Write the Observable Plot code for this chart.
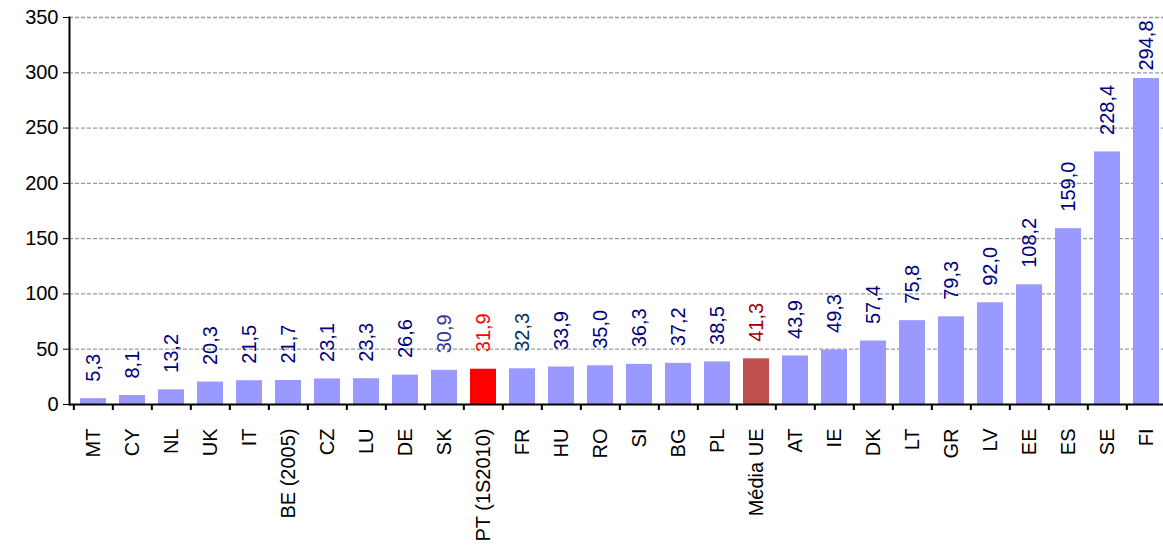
<!DOCTYPE html>
<html>
<head>
<meta charset="utf-8">
<script src="https://cdn.jsdelivr.net/npm/d3@7"></script>
<script src="https://cdn.jsdelivr.net/npm/@observablehq/plot@0.6"></script>
<style>
  html, body { margin: 0; padding: 0; background: #fff; overflow: hidden; }
  #chart svg { display: block; }
</style>
</head>
<body>
<div id="chart"></div>
<script>
const countries = ["MT","CY","NL","UK","IT","BE (2005)","CZ","LU","DE","SK","PT (1S2010)","FR","HU","RO","SI","BG","PL","Média UE","AT","IE","DK","LT","GR","LV","EE","ES","SE","FI"];
const values = [5.3,8.1,13.2,20.3,21.5,21.7,23.1,23.3,26.6,30.9,31.9,32.3,33.9,35.0,36.3,37.2,38.5,41.3,43.9,49.3,57.4,75.8,79.3,92.0,108.2,159.0,228.4,294.8];
const yTicks = [0,50,100,150,200,250,300,350];
const gridTicks = [50,100,150,200,250,300,350];

const barColor = {"PT (1S2010)": "#ff0000", "Média UE": "#c0504d"};
const labelColor = {"SK": "#333399", "PT (1S2010)": "#ff0000", "FR": "#003366", "Média UE": "#990000"};

const data = countries.map((c, i) => ({country: c, value: values[i]}));
const fmt = v => d3.format(".1f")(v).replace(".", ",");

const W = 1163, H = 549, ML = 69, MR = -7, MT = 17, MB = 145;
const step = (W - ML - MR) / countries.length;
const font = "'Liberation Sans', Arial, sans-serif";

const chart = Plot.plot({
  width: W,
  height: H,
  marginLeft: ML,
  marginRight: MR,
  marginTop: MT,
  marginBottom: MB,
  style: {fontFamily: font, fontSize: "20px", color: "#000", background: "#fff"},
  x: {domain: countries, paddingInner: 0.34, paddingOuter: 0.17, label: null},
  y: {domain: [0, 350], label: null},
  marks: [
    Plot.ruleY(gridTicks, {stroke: "#9a9a9a", strokeWidth: 1.3, strokeDasharray: "4,2"}),
    Plot.barY(data, {x: "country", y: "value", fill: d => barColor[d.country] || "#9999ff"}),
    Plot.text(data.filter(d => d.country !== "FI"), {
      x: "country", y: "value", text: d => fmt(d.value), rotate: -90,
      textAnchor: "start", lineAnchor: "middle", dy: -17,
      fill: d => labelColor[d.country] || "#000080", fontSize: 20
    }),
    Plot.text(data.filter(d => d.country === "FI"), {
      x: "country", y: "value", text: d => fmt(d.value), rotate: -90,
      textAnchor: "start", lineAnchor: "middle", dy: -8,
      fill: "#000080", fontSize: 20
    }),
    Plot.axisY({ticks: yTicks, tickSize: 6, tickPadding: 5, tickFormat: d => String(d), fontSize: 20, label: null, stroke: "#000"}),
    Plot.axisX({tickSize: 6, tickFormat: () => "", dx: -step / 2, label: null, strokeWidth: 2}),
    Plot.axisX({tickSize: 0, tickPadding: 24, tickRotate: -90, fontSize: 20, label: null}),
    Plot.ruleY([0], {stroke: "#000", strokeWidth: 2}),
    Plot.frame({anchor: "left", stroke: "#000", strokeWidth: 2})
  ]
});
document.getElementById("chart").appendChild(chart);
</script>
</body>
</html>
